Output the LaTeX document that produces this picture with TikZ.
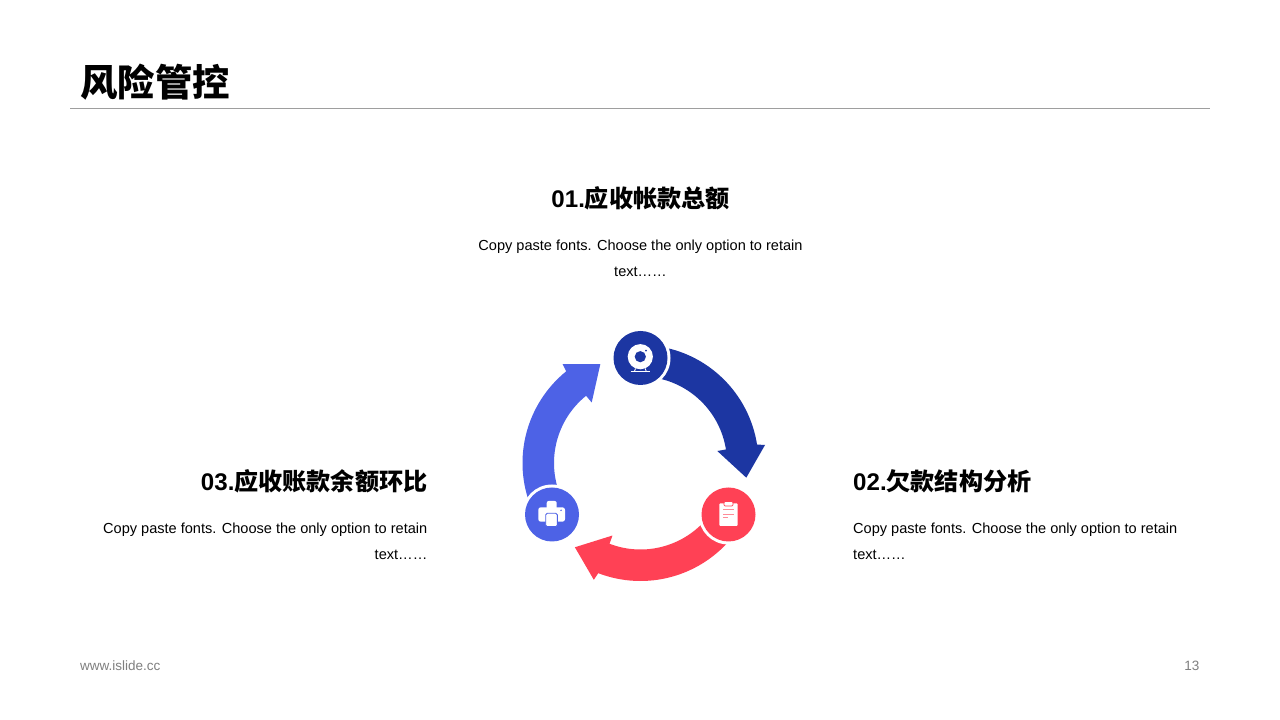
\documentclass[tikz,border=0pt]{standalone}
\usepackage{fontspec}
\setmainfont{Liberation Sans}
\newfontfamily\cjk{Noto Sans CJK SC}
\definecolor{cdark}{HTML}{1C36A2}
\definecolor{clight}{HTML}{4D62E6}
\definecolor{cred}{HTML}{FF4155}
\definecolor{cpink}{HTML}{FF8C98}
\definecolor{cfoot}{HTML}{7F7F7F}
\newcommand{\ringarrow}[2]{%
  \fill[#1,shift={(640.5,257)},rotate=#2]
    (82:118) arc[start angle=82,end angle=9,radius=118]
    -- (124.5,18) -- (105.8,-14.7) -- (76.8,12) -- (9:86.5)
    arc[start angle=9,end angle=82,radius=86.5] -- cycle;}
\newcommand{\discat}[3]{%
  \fill[white] (#2) circle (30);
  \node[disc=#1] (#3) at (#2) {};}
\tikzset{
  disc/.style={circle,minimum size=54pt,inner sep=0pt,outer sep=0pt,fill=#1},
  head/.style={font=\fontsize{24.1pt}{28pt}\selectfont\bfseries,inner sep=0pt,text=black},
  body/.style={font=\fontsize{14.55pt}{26pt}\selectfont,inner sep=0pt,text=black},
  foot/.style={font=\fontsize{13.5pt}{16pt}\selectfont,inner sep=0pt,text=cfoot}
}
\begin{document}
\begin{tikzpicture}[x=1pt,y=1pt]
\useasboundingbox (0,0) rectangle (1280,720);
\fill[white] (0,0) rectangle (1280,720);
\node[anchor=west,inner sep=0pt,font=\fontsize{37.4pt}{40pt}\selectfont\bfseries\cjk] (title) at (80,638) {风险管控};
\coordinate (ruleL) at (70,611.5);
\coordinate (ruleR) at (1210,611.5);
\draw[color=black!38,line width=0.9pt] (ruleL) -- (ruleR);

\node[head,anchor=center] (h1) at (640.5,522) {01.{\cjk 应收帐款总额}};
\node[body,align=center,anchor=north] (b1) at (640.5,480) {Copy paste fonts. Choose the only option to retain\\text\ldots\ldots};
\node[head,anchor=west] (h2) at (853,239) {02.{\cjk 欠款结构分析}};
\node[body,align=left,anchor=north west] (b2) at (853,197) {Copy paste fonts. Choose the only option to retain\\text\ldots\ldots};
\node[head,anchor=east] (h3) at (427.5,239) {03.{\cjk 应收账款余额环比}};
\node[body,align=right,anchor=north east] (b3) at (427.5,197) {Copy paste fonts. Choose the only option to retain\\text\ldots\ldots};

\ringarrow{cdark}{0}
\ringarrow{cred}{-120}
\ringarrow{clight}{-240}

\coordinate (p1) at (640.5,362);
\coordinate (p2) at (728.5,205.5);
\coordinate (p3) at (552,205.5);
\discat{cdark}{p1}{c1}
\discat{cred}{p2}{c2}
\discat{clight}{p3}{c3}

% webcam
\fill[white] (640.3,363.3) circle (12.6);
\fill[cdark] (640.3,363.3) circle (5.6);
\fill[cdark] (646,369.3) circle (1);
\draw[white,line width=0.9pt] (630.7,348.7) -- (650,348.7);
\draw[white,line width=0.9pt] (635.5,351.5) -- (634.5,348.7) (645.2,351.5) -- (646.2,348.7);
% clipboard
\fill[white,rounded corners=1pt] (719.3,194) rectangle (737.7,216.7);
\fill[white,rounded corners=1pt,draw=cred,line width=0.7pt] (724,214) rectangle (732.9,218.4);
\draw[cpink,line width=1pt] (723.3,210) -- (734,210) (723.3,205.7) -- (734,205.7) (723.3,202) -- (728.3,202);
% printer
\fill[white,rounded corners=2pt] (546.7,209) rectangle (556.7,219);
\fill[white,rounded corners=2.5pt] (538.3,198.3) rectangle (565,212.7);
\fill[white,rounded corners=1.5pt,draw=clight,line width=0.9pt] (545.7,193.3) rectangle (557.3,206.7);
\fill[clight] (561,209.7) circle (0.8);

\node[foot,anchor=west] (f1) at (80,54) {www.islide.cc};
\node[foot,anchor=east] (f2) at (1199.5,54) {13};
\end{tikzpicture}
\end{document}
